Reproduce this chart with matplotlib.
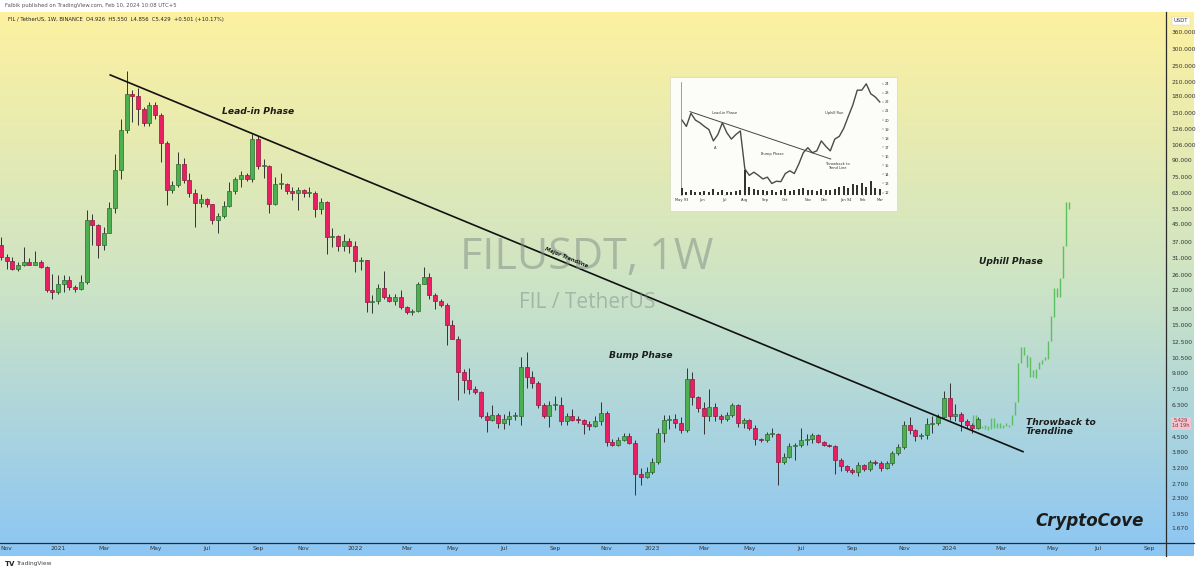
import numpy as np
import pandas as pd
import matplotlib
matplotlib.use("Agg")
import matplotlib.pyplot as plt
import matplotlib.dates as mdates
from matplotlib.colors import LinearSegmentedColormap
from matplotlib.patches import Rectangle
from matplotlib.lines import Line2D
from matplotlib.ticker import NullLocator

W, H = 1200, 573

# ---- FIL/USDT weekly candles (Oct 26 2020 .. Feb 5 2024) ----
first_week = "2020-10-26"
first_open = 36.0
closes = [31.5,
          30.2, 27.5, 28.8, 29.9, 29.0, 29.8, 28.2, 22.0, 21.5, 23.6,
          24.6, 22.8, 22.2, 24.1, 46.9, 44.6, 35.7, 41.0, 53.5, 80.7,
          125, 183, 179, 157, 134, 163, 146, 108, 65, 68.6,
          86.3, 72.8, 63, 56.4, 58.8, 55.7, 47, 49.3, 54.7, 64.4,
          73, 76.4, 73.5, 113, 84, 84.5, 56, 69, 69.5, 64,
          63.0, 65, 63, 63.2, 52.7, 56.9, 39, 39.3, 35.4, 37.4,
          35.4, 30.0, 30.4, 19.4, 19.6, 22.6, 20.5, 19.6, 20.3, 18.3,
          17.3, 17.6, 23.6, 25.4, 20.8, 19.6, 18.7, 15.0, 13.0, 9.06,
          8.29, 7.5, 7.3, 5.6, 5.4, 5.7, 5.2, 5.45, 5.6, 5.62,
          9.6, 8.6, 8.0, 6.3, 5.6, 6.3, 6.33, 5.3, 5.65, 5.4,
          5.37,
          5.13, 5.05, 5.33, 5.78, 4.25, 4.1, 4.33, 4.52, 4.2, 2.99,
          2.9, 3.05, 3.4, 4.65, 5.37, 5.43, 5.2, 4.85, 8.36, 6.88,
          6.1, 5.6, 6.2, 5.62, 5.45, 5.68, 6.33, 5.2, 5.37, 4.95,
          4.38, 4.33, 4.62, 4.62, 3.4, 3.62, 4.05, 4.1, 4.33, 4.37,
          4.57, 4.25, 4.12, 4.05, 3.5, 3.27, 3.13, 3.06, 3.3, 3.15,
          3.42,
          3.36, 3.19, 3.38, 3.75, 4.03, 5.09, 4.82, 4.52, 4.55, 5.15,
          5.22, 5.56, 6.8, 5.6, 5.76, 5.3, 5.1, 4.926, 5.429]
highs = [39.0,
         32.4, 31.5, 29.8, 35.2, 31.2, 33.6, 30.6, 28.5, 26.3, 26.0,
         25.8, 25.5, 23.2, 26.0, 52.3, 50.0, 45.0, 43.5, 57.0, 96.0,
         140, 237, 192, 196, 160, 168, 168, 150, 110, 72,
         98, 92, 78, 66, 62, 59.5, 56, 50.5, 58, 71,
         75, 80, 78, 119, 117, 91, 85, 75, 78, 70,
         67.3, 67, 66, 67, 64, 59.5, 57.5, 43, 40, 40.5,
         38.5, 37.5, 31.5, 30.5, 20.8, 23.5, 26.9, 21, 21, 21.9,
         18.6, 18, 24, 28.2, 26.5, 21.2, 20, 19.2, 15.9, 13.3,
         9.4, 9.5, 7.8, 7.4, 5.9, 6.3, 5.8, 5.75, 5.95, 5.9,
         10.6, 11.2, 9.2, 8.2, 6.5, 6.6, 6.95, 6.9, 5.8, 6.05,
         5.6,
         5.46, 5.3, 5.65, 6.55, 5.95, 4.4, 4.5, 4.7, 4.65, 4.35,
         3.2, 3.25, 3.55, 4.95, 5.7, 5.7, 5.75, 5.55, 9.45, 9.1,
         7.0, 6.55, 7.5, 6.5, 5.75, 5.9, 6.45, 6.4, 5.5, 5.45,
         5.1, 4.45, 4.75, 4.95, 4.7, 3.75, 4.2, 4.2, 4.95, 4.62,
         4.7, 4.6, 4.3, 4.15, 4.1, 3.55, 3.3, 3.2, 3.4, 3.35,
         3.5,
         3.5, 3.45, 3.45, 3.85, 4.15, 5.3, 5.56, 4.9, 4.7, 5.5,
         5.6, 5.75, 7.4, 8.0, 6.4, 5.9, 5.45, 5.2, 5.55]
lows = [30.5,
        27.5, 27.3, 27.0, 28.5, 28.7, 28.9, 27.8, 21.6, 20.0, 21.0,
        21.6, 21.9, 21.5, 21.9, 23.5, 35.7, 31.2, 34.0, 41.0, 50.6,
        73, 120, 136, 131, 130, 130, 140, 88, 55, 63,
        67, 70, 60, 43.4, 54, 54, 45, 40.7, 48, 54,
        62, 67, 72, 71, 82, 74, 50.5, 55, 66, 62,
        58.3, 52.3, 60, 60, 48.5, 50, 32.5, 35.2, 33.5, 33.5,
        32.8, 26.7, 27.2, 17.4, 17.1, 19.0, 20.0, 19.3, 18.7, 18.0,
        16.9, 16.7, 17.3, 23.5, 20.0, 18.0, 18.4, 12.1, 12.9, 6.68,
        7.2, 7.1, 7.1, 5.5, 4.75, 5.3, 4.95, 4.9, 5.1, 5.4,
        5.1, 7.6, 7.6, 6.1, 5.5, 5.0, 6.0, 5.1, 5.1, 5.3,
        5.2,
        4.6, 4.85, 5.0, 5.1, 4.05, 4.05, 4.05, 4.3, 4.15, 2.38,
        2.65, 2.88, 3.0, 3.35, 4.25, 4.9, 4.95, 4.7, 4.75, 6.3,
        5.9, 4.6, 5.35, 5.3, 5.2, 5.3, 5.55, 5.0, 4.95, 4.85,
        4.1, 4.25, 4.25, 4.5, 2.66, 3.35, 3.55, 3.5, 4.0, 4.1,
        4.2, 4.2, 4.05, 4.0, 2.99, 3.1, 3.05, 3.0, 2.95, 3.1,
        3.1,
        3.3, 3.1, 3.15, 3.3, 3.7, 3.95, 4.6, 4.3, 4.4, 4.4,
        4.7, 5.1, 5.5, 5.4, 5.3, 4.8, 4.95, 4.65, 4.856]

# projected "uphill" bars (copied pattern)
ghost_start = "2024-01-30"
ghost_hi = [5.68, 5.68, 5.09, 5.03, 5.09, 5.03, 5.49, 5.49, 5.22, 5.19,
            5.09, 5.2, 5.1, 5.68, 6.56, 10.0, 11.9, 11.9, 10.9, 10.7,
            9.24, 9.4, 10.1, 10.3, 10.6, 12.6, 16.6, 22.4, 22.4, 25.0,
            35.4, 57.2, 57.2]
ghost_lo = [5.09, 5.09, 4.98, 4.93, 4.87, 4.82, 4.90, 4.93, 4.93, 4.93,
            4.96, 5.05, 5.0, 5.09, 5.68, 6.56, 10.0, 10.9, 9.6, 8.6,
            8.54, 8.45, 9.4, 9.9, 10.3, 10.45, 12.6, 16.5, 20.4, 20.4,
            25.0, 35.4, 52.7]

trend_dates = ["2021-03-09", "2024-03-31"]
trend_prices = [226, 3.82]

price_ticks = [360, 300, 250, 210, 180, 150, 126, 106, 90, 75, 63, 53, 45, 37,
               31, 26, 22, 18, 15, 12.5, 10.5, 9, 7.5, 6.3, 4.5, 3.8, 3.2, 2.7,
               2.3, 1.95, 1.67]

# inset: classic bump-and-run example chart
inset_price = [20.0, 19.3, 20.75, 20.0, 19.7, 19.3, 18.95, 17.7, 18.4, 19.7,
               18.6, 17.9, 18.4, 18.8, 14.6, 13.9, 14.25, 13.9, 13.5, 13.7,
               13.0, 13.25, 13.2, 14.1, 14.4, 14.1, 15.15, 16.4, 16.95, 16.4,
               16.6, 17.7, 17.1, 16.6, 17.9, 18.2, 19.1, 20.4, 21.65, 23.3,
               23.3, 24.0, 22.9, 22.55, 22.0]
inset_vol = [1.2, 0.6, 0.8, 0.5, 0.6, 0.7, 0.5, 1.0, 0.6, 0.9,
             0.5, 0.6, 0.7, 0.8, 4.5, 1.4, 1.0, 0.9, 0.8, 0.7,
             0.9, 0.6, 0.8, 1.0, 0.7, 0.9, 1.1, 1.3, 0.9, 0.8,
             0.7, 1.0, 0.9, 0.8, 1.1, 1.4, 1.6, 1.3, 2.0, 1.7,
             2.2, 1.5, 2.4, 1.3, 1.0]
inset_months = ["May 93", "Jun", "Jul", "Aug", "Sep", "Oct", "Nov", "Dec",
                "Jan 94", "Feb", "Mar"]
inset_month_pos = [0, 4.4, 9.5, 14, 18.5, 22.9, 28, 31.6, 36.4, 40.2, 44]
inset_trend_x = [1.8, 33.1]
inset_trend_y = [20.93, 15.7]

green, green_edge = "#4caf50", "#2d6a30"
red, red_edge = "#e91e63", "#8c1a3e"
ink = "#1c1c1c"


def box(x0, y0, x1, y1):
    return [x0 / W, 1 - y1 / H, (x1 - x0) / W, (y1 - y0) / H]


def ft(x, y, s, **kw):
    return fig.text(x / W, 1 - y / H, s, **kw)


fig = plt.figure(figsize=(W / 100, H / 100), dpi=100)
fig.patch.set_facecolor("white")

# background gradient
bg = fig.add_axes(box(0, 12, 1194, 556), zorder=0)
grad = np.linspace(0, 1, 256).reshape(-1, 1)
cmap = LinearSegmentedColormap.from_list(
    "tv", [(0, "#fdf1a0"), (0.5, "#cde4c5"), (1, "#8cc6f4")])
bg.imshow(grad, aspect="auto", cmap=cmap, extent=[0, 1, 0, 1])
bg.axis("off")

ax = fig.add_axes(box(0, 12, 1166, 543), zorder=1)
ax.set_facecolor("none")

dates = pd.date_range(first_week, periods=len(closes), freq="7D")
xd = mdates.date2num(dates)
o = np.array([first_open] + closes[:-1])
c = np.array(closes)
h = np.array(highs)
l = np.array(lows)
up = c >= o
bot = np.minimum(o, c)
top = np.maximum(np.maximum(o, c), bot * 1.012)

ax.vlines(xd, l, h, color="#333333", lw=0.7, zorder=2)
ax.bar(xd[up], (top - bot)[up], bottom=bot[up], width=4.9, color=green,
       edgecolor=green_edge, lw=0.5, zorder=3)
ax.bar(xd[~up], (top - bot)[~up], bottom=bot[~up], width=4.9, color=red,
       edgecolor=red_edge, lw=0.5, zorder=3)

gd = mdates.date2num(pd.date_range(ghost_start, periods=len(ghost_hi), freq="88h"))
ax.vlines(gd, ghost_lo, ghost_hi, color="#5cbf60", lw=1.0, zorder=2)

ax.plot(mdates.date2num(pd.to_datetime(trend_dates)), trend_prices,
        color="#111111", lw=1.2, zorder=4)

ax.set_yscale("log")
ax.set_ylim(1.42, 447)
x0 = mdates.date2num(pd.Timestamp("2021-01-04"))
ppd = 0.8164  # pixels per day
ax.set_xlim(x0 - 58 / ppd, x0 + (1166 - 58) / ppd)

ax.yaxis.tick_right()
ax.set_yticks(price_ticks)
ax.set_yticklabels([f"{v:.3f}" for v in price_ticks])
ax.yaxis.set_minor_locator(NullLocator())
ax.tick_params(axis="y", length=0, pad=4, labelsize=4.3, labelcolor="#333333")

ticks, labels = [], []
for m in pd.date_range("2020-11-01", "2024-09-01", freq="2MS"):
    d = m + pd.Timedelta(days=(7 - m.weekday()) % 7)
    ticks.append(mdates.date2num(d))
    labels.append(str(m.year) if m.month == 1 else m.strftime("%b"))
ax.set_xticks(ticks)
ax.set_xticklabels(labels)
ax.tick_params(axis="x", length=0, pad=2.5, labelsize=4.3, labelcolor="#333333")

for s in ["top", "left", "right", "bottom"]:
    ax.spines[s].set_visible(False)
fig.add_artist(Line2D([0, 1194 / W], [1 - 543 / H] * 2, color="#2b2b2b", lw=0.9, zorder=3))
fig.add_artist(Line2D([1166 / W] * 2, [1 - 12 / H, 1 - 556 / H], color="#2b2b2b", lw=0.9, zorder=3))

# watermark
ft(587, 258, "FILUSDT, 1W", ha="center", va="center", fontsize=31,
   family=["Open Sans", "DejaVu Sans"], color="#7f8a84", alpha=0.5, zorder=1)
ft(587, 303, "FIL / TetherUS", ha="center", va="center", fontsize=15,
   family=["Open Sans", "DejaVu Sans"], color="#7f8a84", alpha=0.5, zorder=1)

# annotations
lab = dict(family=["DejaVu Sans"], fontweight="bold", fontstyle="italic",
           color=ink, zorder=6)
ft(222, 111, "Lead-in Phase", ha="left", va="center", fontsize=6.6, **lab)
ft(609, 356, "Bump Phase", ha="left", va="center", fontsize=6.6, **lab)
ft(979, 261, "Uphill Phase", ha="left", va="center", fontsize=6.6, **lab)
ft(1026, 427, "Throwback to\nTrendline", ha="left", va="center", fontsize=6.6,
   linespacing=1.0, **lab)
ft(1035, 521, "CryptoCove", ha="left", va="center", fontsize=12, **lab)
ft(566, 257, "Major Trendline", ha="center", va="center", fontsize=3.8,
   rotation=-22.4, rotation_mode="anchor", **lab)

# header
ft(5, 6, "Falbik published on TradingView.com, Feb 10, 2024 10:08 UTC+5",
   ha="left", va="center", fontsize=3.8, color="#555555")
ft(8, 20, "FIL / TetherUS, 1W, BINANCE  O4.926  H5.550  L4.856  C5.429  +0.501 (+10.17%)",
   ha="left", va="center", fontsize=3.8, color="#222222")
ft(1181, 21, "USDT", ha="center", va="center", fontsize=3.8, color="#333333",
   bbox=dict(boxstyle="square,pad=0.35", fc="white", ec="#cccccc", lw=0.3), zorder=6)
ft(1181, 423, "5.429\n1d 19h", ha="center", va="center", fontsize=3.6,
   color="#8a2c3d", linespacing=1.0,
   bbox=dict(boxstyle="square,pad=0.3", fc="#f0c5cd", ec="none"), zorder=6)
ft(5, 564, "TV", ha="left", va="center", fontsize=5, fontweight="bold", color="#222222")
ft(16, 564, "TradingView", ha="left", va="center", fontsize=4.2, color="#444444")

# inset chart
fig.add_artist(Rectangle((670 / W, 1 - 211 / H), 227 / W, 134 / H,
                         transform=fig.transFigure, facecolor="#fcfcf8",
                         edgecolor="#dcdcc4", lw=0.6, zorder=4))
ins = fig.add_axes(box(681, 82, 882, 195), zorder=5)
ins.set_facecolor("none")
wk = np.arange(len(inset_price))
ins.plot(wk, inset_price, color="#4a4a4a", lw=1.0)
ins.plot(inset_trend_x, inset_trend_y, color="#444444", lw=0.7)
ins.set_xlim(-0.2, 44.5)
ins.set_ylim(11.73, 24.2)
ins.yaxis.tick_right()
ins.set_yticks(range(12, 25))
ins.tick_params(axis="y", length=1.2, width=0.3, labelsize=2.6, pad=1,
                labelcolor="#333333", color="#555555")
ins.set_xticks(inset_month_pos)
ins.set_xticklabels(inset_months)
ins.tick_params(axis="x", length=1.0, width=0.3, labelsize=2.6, pad=1.5,
                labelcolor="#333333", color="#555555")
for s in ["top", "right", "bottom"]:
    ins.spines[s].set_visible(False)
ins.spines["left"].set_color("#777777")
ins.spines["left"].set_linewidth(0.5)
tiny = dict(fontsize=2.6, color="#333333", ha="center", va="center")
ins.text(9.5, 20.75, "Lead-in Phase", **tiny)
ins.text(7.3, 16.96, "A", **tiny)
ins.text(20, 16.2, "Bump Phase", **tiny)
ins.text(33.8, 20.8, "Uphill Run", **tiny)
ins.text(34.5, 14.9, "Throwback to\nTrend Line", linespacing=1.0, **tiny)

vol = fig.add_axes(box(681, 82, 882, 195), zorder=5)
vol.set_facecolor("none")
vol.bar(wk, inset_vol, width=0.45, color="#333333")
vol.set_xlim(-0.2, 44.5)
vol.set_ylim(0, 20)
vol.axis("off")

fig.savefig("out.png", dpi=100)
